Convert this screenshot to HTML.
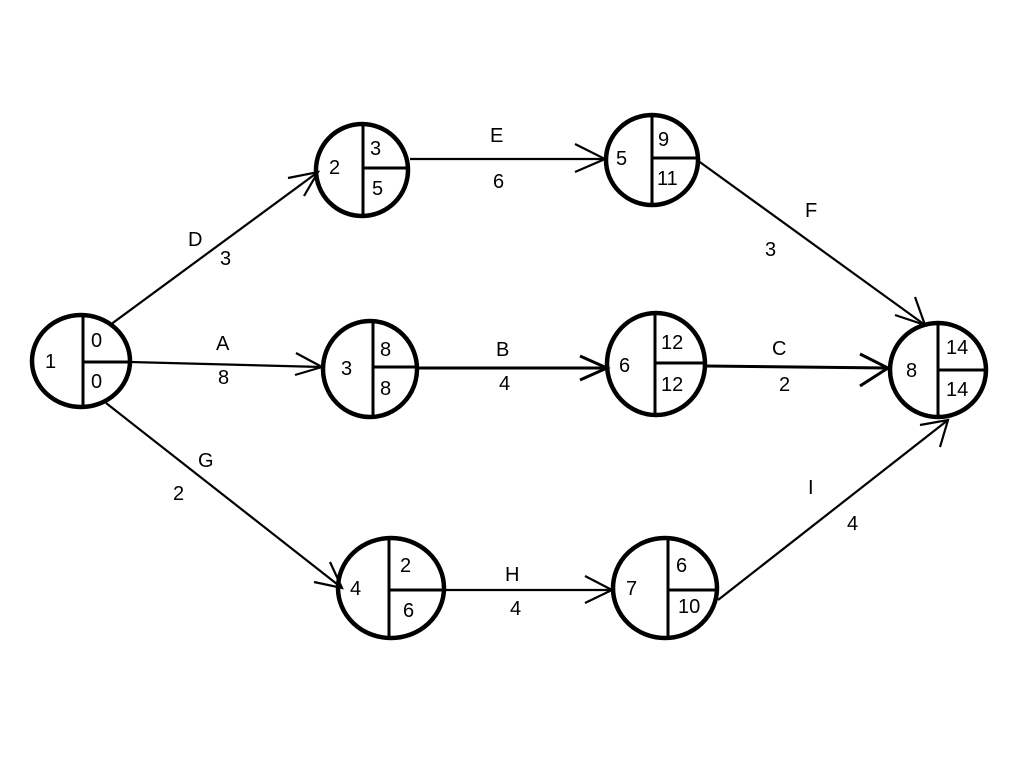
<!DOCTYPE html>
<html><head><style>body{margin:0;background:#fff}svg{display:block}text{font-family:"Liberation Sans",Arial,sans-serif;font-size:20px;fill:#000}</style></head>
<body>
<svg width="1024" height="768" viewBox="0 0 1024 768" xmlns="http://www.w3.org/2000/svg">
<g stroke="#000" fill="none" stroke-width="2.2">
<line x1="110" y1="325" x2="318" y2="172"/>
<polyline points="288,178 318,172 304,196"/>
<line x1="130" y1="362" x2="322" y2="367"/>
<polyline points="296,353 322,367 295,375"/>
<line x1="106" y1="403" x2="342" y2="588"/>
<polyline points="330,562 342,588 314,582"/>
<line x1="410" y1="159" x2="605" y2="159"/>
<polyline points="575,144 605,159 575,172"/>
<line x1="418" y1="368" x2="607" y2="368" stroke-width="3"/>
<polyline points="580,356 607,368 580,380" stroke-width="3"/>
<line x1="706" y1="366" x2="888" y2="368" stroke-width="3"/>
<polyline points="860,354 888,368 860,386" stroke-width="3"/>
<line x1="445" y1="590" x2="612" y2="590"/>
<polyline points="585,576 612,590 585,603"/>
<line x1="697" y1="160" x2="925" y2="325"/>
<polyline points="895,315 925,325 915,297"/>
<line x1="718" y1="600" x2="948" y2="420"/>
<polyline points="920,425 948,420 940,447"/>
<g stroke-width="4.5">
<ellipse cx="81" cy="361" rx="49" ry="46"/>
<ellipse cx="362" cy="170" rx="46" ry="46"/>
<ellipse cx="652" cy="160" rx="46" ry="45"/>
<ellipse cx="370" cy="369" rx="47" ry="48"/>
<ellipse cx="656" cy="364" rx="49" ry="51"/>
<ellipse cx="938" cy="370" rx="48" ry="47"/>
<ellipse cx="391" cy="588" rx="53" ry="50"/>
<ellipse cx="665" cy="588" rx="52" ry="50"/>
</g>
<g stroke-width="3">
<line x1="83" y1="315" x2="83" y2="407"/><line x1="83" y1="362" x2="130" y2="362"/>
<line x1="363" y1="124" x2="363" y2="216"/><line x1="363" y1="168" x2="408" y2="168"/>
<line x1="652" y1="115" x2="652" y2="205"/><line x1="652" y1="158" x2="698" y2="158"/>
<line x1="373" y1="321" x2="373" y2="417"/><line x1="373" y1="367" x2="417" y2="367"/>
<line x1="655" y1="313" x2="655" y2="415"/><line x1="655" y1="363" x2="705" y2="363"/>
<line x1="938" y1="323" x2="938" y2="417"/><line x1="938" y1="370" x2="986" y2="370"/>
<line x1="389" y1="538" x2="389" y2="638"/><line x1="389" y1="590" x2="444" y2="590"/>
<line x1="668" y1="538" x2="668" y2="638"/><line x1="668" y1="590" x2="717" y2="590"/>
</g>
</g>
<text x="45" y="368">1</text><text x="91" y="347">0</text><text x="91" y="388">0</text>
<text x="329" y="174">2</text><text x="370" y="155">3</text><text x="372" y="195">5</text>
<text x="616" y="165">5</text><text x="658" y="146">9</text><text x="657" y="185">11</text>
<text x="341" y="375">3</text><text x="380" y="356">8</text><text x="380" y="395">8</text>
<text x="619" y="372">6</text><text x="661" y="349">12</text><text x="661" y="391">12</text>
<text x="906" y="377">8</text><text x="946" y="354">14</text><text x="946" y="396">14</text>
<text x="350" y="595">4</text><text x="400" y="572">2</text><text x="403" y="617">6</text>
<text x="626" y="595">7</text><text x="676" y="572">6</text><text x="678" y="613">10</text>
<text x="188" y="246">D</text><text x="220" y="265">3</text>
<text x="216" y="350">A</text><text x="218" y="384">8</text>
<text x="198" y="467">G</text><text x="173" y="500">2</text>
<text x="490" y="142">E</text><text x="493" y="188">6</text>
<text x="496" y="356">B</text><text x="499" y="390">4</text>
<text x="772" y="355">C</text><text x="779" y="391">2</text>
<text x="505" y="581">H</text><text x="510" y="615">4</text>
<text x="805" y="217">F</text><text x="765" y="256">3</text>
<text x="808" y="494">I</text><text x="847" y="530">4</text>
</svg>
</body></html>
